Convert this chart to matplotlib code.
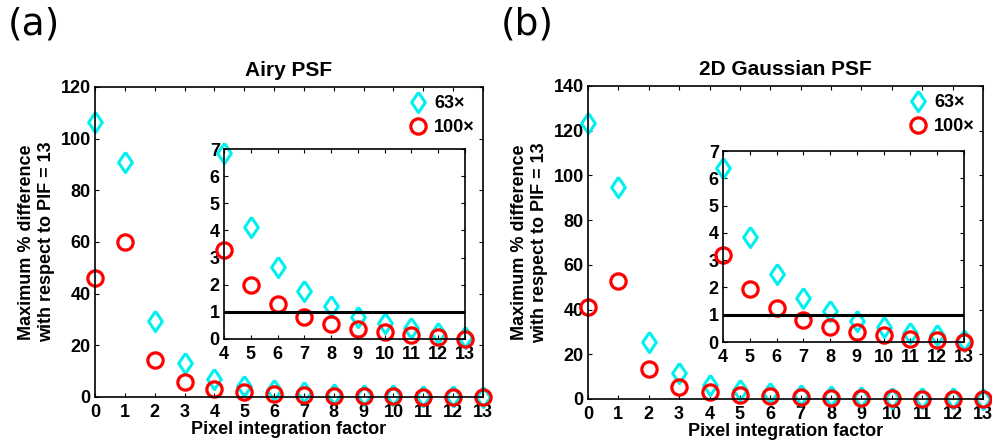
import matplotlib
matplotlib.use("Agg")
import matplotlib.pyplot as plt

plt.rcParams['font.family'] = ['Liberation Sans', 'DejaVu Sans']
plt.rcParams['font.weight'] = 'bold'

pif = list(range(14))
# Airy PSF
airy_63 = [106.6, 91.1, 29.5, 13.0, 6.84, 4.12, 2.64, 1.77, 1.22, 0.80, 0.58, 0.39, 0.21, 0.09]
airy_100 = [46.0, 60.0, 14.2, 5.9, 3.28, 1.98, 1.29, 0.82, 0.55, 0.37, 0.24, 0.15, 0.07, 0.0]
# 2D Gaussian PSF
gauss_63 = [123.6, 95.0, 25.4, 11.8, 6.36, 3.85, 2.48, 1.63, 1.13, 0.76, 0.55, 0.34, 0.25, 0.06]
gauss_100 = [41.0, 52.9, 13.4, 5.5, 3.19, 1.93, 1.23, 0.82, 0.55, 0.37, 0.25, 0.12, 0.09, 0.01]

threshold = 1
cyan = '#00F0F0'
red = '#FF0000'

fig = plt.figure(figsize=(9.92, 4.44), dpi=100)

panels = [
    dict(main=[0.0958, 0.1059, 0.3911, 0.6982], inset=[0.2258, 0.2365, 0.2429, 0.4279],
         y63=airy_63, y100=airy_100, ymax=120, yticks=range(0, 121, 20), title='Airy PSF', tag='(a)', tagx=0.008),
    dict(main=[0.5927, 0.1014, 0.3982, 0.7050], inset=[0.7288, 0.2297, 0.2429, 0.4302],
         y63=gauss_63, y100=gauss_100, ymax=140, yticks=range(0, 141, 20), title='2D Gaussian PSF', tag='(b)', tagx=0.505),
]

def style(ax, xpad):
    ax.tick_params(direction='in', top=True, right=True, length=3, labelsize=13, pad=3)
    ax.tick_params(axis='x', pad=xpad)
    for lab in ax.get_xticklabels() + ax.get_yticklabels():
        lab.set_fontweight('bold')
    for s in ax.spines.values():
        s.set_linewidth(1.2)

diamond = [(0, 1), (0.68, 0), (0, -1), (-0.68, 0), (0, 1)]
dkw = dict(linestyle='none', marker=diamond, markersize=14.5, markerfacecolor='none',
           markeredgecolor=cyan, markeredgewidth=2.2, clip_on=False)
okw = dict(linestyle='none', marker='o', markersize=11, markerfacecolor='none',
           markeredgecolor=red, markeredgewidth=2.3, clip_on=False)

for p in panels:
    ax = fig.add_axes(p['main'])
    ax.plot(pif, p['y63'], label='63×', **dkw)
    ax.plot(pif, p['y100'], label='100×', **okw)
    ax.set_xlim(0, 13)
    ax.set_ylim(0, p['ymax'])
    ax.set_xticks(pif)
    ax.set_yticks(list(p['yticks']))
    style(ax, 5)
    ax.set_xlabel('Pixel integration factor', fontsize=13, fontweight='bold', labelpad=0)
    ax.set_ylabel('Maximum % difference\nwith respect to PIF = 13', fontsize=13, fontweight='bold', labelpad=4)
    ax.set_title(p['title'], fontsize=15, fontweight='bold', pad=8)
    ax.legend(loc='upper right', frameon=False, fontsize=13, handlelength=0.8,
              handletextpad=0.5, borderaxespad=0.05, labelspacing=0.4)
    fig.text(p['tagx'], 0.985, p['tag'], fontsize=27, fontweight='normal', va='top', ha='left',
             family='DejaVu Sans')

    ins = fig.add_axes(p['inset'])
    ins.plot(pif[4:], p['y63'][4:], **dkw)
    ins.plot(pif[4:], p['y100'][4:], **okw)
    ins.axhline(threshold, color='black', linewidth=2.2)
    ins.set_xlim(4, 13)
    ins.set_ylim(0, 7)
    ins.set_xticks(pif[4:])
    ins.set_yticks(range(0, 8))
    style(ins, 5)

fig.savefig('out.png', dpi=100)
